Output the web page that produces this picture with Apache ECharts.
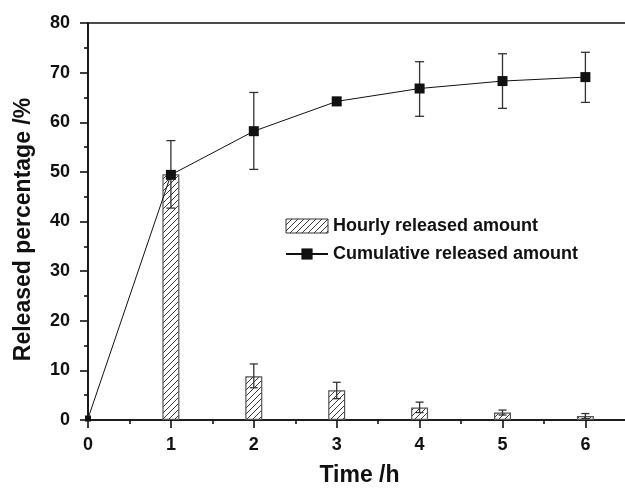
<!DOCTYPE html>
<html><head><meta charset="utf-8">
<script src="https://cdn.jsdelivr.net/npm/echarts@6/dist/echarts.min.js"></script>
<style>html,body{margin:0;padding:0;background:#fff}#c{width:625px;height:488px}</style>
</head><body><div id="c"></div>
<script>
const times = [0, 1, 2, 3, 4, 5, 6];
const cumulative = [0.3, 49.4, 58.2, 64.2, 66.8, 68.3, 69.1];
const cumLow = [null, 42.7, 50.5, 63.4, 61.2, 62.8, 64.0];
const cumHigh = [null, 56.3, 66.0, 65.0, 72.2, 73.8, 74.1];
const hourlyTimes = [1, 2, 3, 4, 5, 6];
const hourly = [49.5, 8.8, 6.0, 2.5, 1.5, 0.8];
const hourLow = [null, 6.5, 4.3, 1.5, 1.0, 0.3];
const hourHigh = [null, 11.3, 7.6, 3.6, 2.0, 1.3];

const hatch = document.createElement('canvas');
hatch.width = 6; hatch.height = 6;
(function(){
  const g = hatch.getContext('2d');
  g.fillStyle = '#fff'; g.fillRect(0,0,6,6);
  g.strokeStyle = '#222'; g.lineWidth = 0.9;
  g.beginPath();
  g.moveTo(0,6); g.lineTo(6,0);
  g.moveTo(-1,1); g.lineTo(1,-1);
  g.moveTo(5,7); g.lineTo(7,5);
  g.stroke();
})();

const chart = echarts.init(document.getElementById('c'), null, {renderer:'canvas'});

function errItem(capW) {
  return function(params, api) {
    const x = api.value(0), lo = api.value(1), hi = api.value(2);
    if (lo == null || isNaN(lo)) return null;
    const p1 = api.coord([x, hi]), p2 = api.coord([x, lo]);
    const st = {stroke:'#333', lineWidth:1.3};
    return {type:'group', children:[
      {type:'line', shape:{x1:p1[0], y1:p1[1], x2:p2[0], y2:p2[1]}, style:st},
      {type:'line', shape:{x1:p1[0]-capW, y1:p1[1], x2:p1[0]+capW, y2:p1[1]}, style:st},
      {type:'line', shape:{x1:p2[0]-capW, y1:p2[1], x2:p2[0]+capW, y2:p2[1]}, style:st}
    ]};
  };
}

const font = '"Liberation Sans", Arial, Helvetica, sans-serif';

chart.setOption({
  animation:false,
  backgroundColor:'#fff',
  grid:{left:88, top:23, right:-6, bottom:68, show:true, borderColor:'#111', borderWidth:1.6, containLabel:false, outerBoundsMode:'none'},
  legend:{
    orient:'vertical', left:280, top:212, itemWidth:42, itemHeight:14, itemGap:10,
    textStyle:{fontFamily:font, fontWeight:'bold', fontSize:18, color:'#111'},
    data:[
      {name:'Hourly released amount', icon:'rect', itemStyle:{color:{image:hatch, repeat:'repeat'}, borderColor:'#333', borderWidth:1}},
      {name:'Cumulative released amount'}
    ]
  },
  xAxis:{
    type:'value', min:0, max:6.55, interval:1,
    name:'Time /h', nameLocation:'middle', nameGap:44,
    nameTextStyle:{fontFamily:font, fontWeight:'bold', fontSize:23, color:'#111'},
    axisLine:{lineStyle:{color:'#111', width:1.6}},
    axisTick:{show:true, length:8, lineStyle:{color:'#111', width:1.6}},
    minorTick:{show:true, splitNumber:2, length:4, lineStyle:{color:'#111', width:1.6}},
    splitLine:{show:false},
    axisLabel:{fontFamily:font, fontWeight:'bold', fontSize:18, color:'#111', margin:16, showMaxLabel:false,
      formatter:function(v){return (v<=6)?String(v):'';}}
  },
  yAxis:{
    type:'value', min:0, max:80, interval:10,
    name:'Released percentage /%', nameLocation:'middle', nameGap:53,
    nameTextStyle:{fontFamily:font, fontWeight:'bold', fontSize:23, color:'#111', padding:[0,16,0,0]},
    axisLine:{lineStyle:{color:'#111', width:1.6}},
    axisTick:{show:true, length:8, lineStyle:{color:'#111', width:1.6}},
    minorTick:{show:true, splitNumber:2, length:4, lineStyle:{color:'#111', width:1.6}},
    splitLine:{show:false},
    axisLabel:{fontFamily:font, fontWeight:'bold', fontSize:18, color:'#111', margin:18}
  },
  series:[
    {
      name:'Hourly released amount', type:'bar', barWidth:17,
      data: hourlyTimes.map((t,i)=>[t, hourly[i]]),
      itemStyle:{color:{image:hatch, repeat:'repeat'}, borderColor:'#555', borderWidth:1.2},
      z:2
    },
    {
      name:'hourErr', type:'custom', renderItem:errItem(4),
      data: hourlyTimes.map((t,i)=>[t, hourLow[i], hourHigh[i]]),
      z:3, silent:true
    },
    {
      name:'cumErr', type:'custom', renderItem:errItem(4.5),
      data: times.map((t,i)=>[t, cumLow[i], cumHigh[i]]),
      z:4, silent:true
    },
    {
      name:'Cumulative released amount', type:'line',
      data: times.map((t,i)=>[t, cumulative[i]]),
      symbol:'rect', symbolSize:function(v){ return v[0] === 0 ? 6 : 10; },
      lineStyle:{color:'#111', width:1},
      itemStyle:{color:'#111'},
      z:5
    }
  ]
});
</script></body></html>
